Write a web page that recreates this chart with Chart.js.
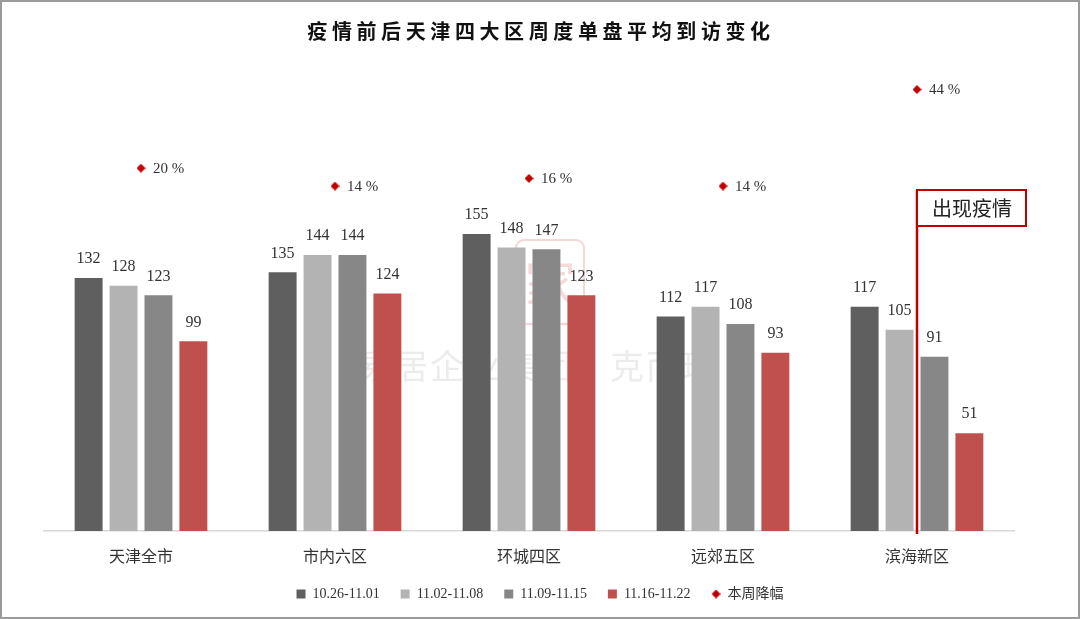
<!DOCTYPE html>
<html>
<head>
<meta charset="utf-8">
<script src="https://cdn.jsdelivr.net/npm/chart.js@4.4.1/dist/chart.umd.min.js"></script>
<style>
  html, body { margin: 0; padding: 0; background: #fff; }
  #wrap { width: 1080px; height: 619px; }
</style>
</head>
<body>
<div id="wrap"><canvas id="myChart1" width="1080" height="619"></canvas></div>
<script>
const categories = ["天津全市", "市内六区", "环城四区", "远郊五区", "滨海新区"];
const seriesNames = ["10.26-11.01", "11.02-11.08", "11.09-11.15", "11.16-11.22"];
const week1 = [132, 135, 155, 112, 117];
const week2 = [128, 144, 148, 117, 105];
const week3 = [123, 144, 147, 108, 91];
const week4 = [99, 124, 123, 93, 51];
const dropName = "本周降幅";
const dropPct = [19.5, 13.9, 16.3, 13.9, 44.0]; // %
const chartTitle = "疫情前后天津四大区周度单盘平均到访变化";
const eventLabel = "出现疫情";
const eventCategory = "滨海新区";

const FONT = "'Liberation Serif', 'Noto Sans CJK SC', serif";
const barColors = ["#5f5f5f", "#b3b3b3", "#878787", "#c0504d"];

// small red diamond used for the points and the legend
const diamond = document.createElement("canvas");
diamond.width = 9;
diamond.height = 9;
(function () {
  const c = diamond.getContext("2d");
  c.fillStyle = "#c00000";
  c.beginPath();
  c.moveTo(4.5, 0);
  c.lineTo(9, 4.5);
  c.lineTo(4.5, 9);
  c.lineTo(0, 4.5);
  c.closePath();
  c.fill();
})();

// frame + title + watermark
const decor = {
  id: "decor",
  beforeDatasetsDraw(chart) {
    const ctx = chart.ctx;
    ctx.save();
    ctx.fillStyle = "rgba(185,185,185,0.28)";
    ctx.font = "34px 'Noto Sans CJK SC'";
    ctx.letterSpacing = "2px";
    ctx.textAlign = "center";
    ctx.textBaseline = "middle";
    ctx.fillText("易居企业集团·克而瑞", 538, 366);
    ctx.letterSpacing = "0px";
    ctx.strokeStyle = "rgba(225,140,140,0.35)";
    ctx.lineWidth = 2;
    ctx.beginPath();
    ctx.roundRect(516, 240, 68, 84, 8);
    ctx.stroke();
    ctx.fillStyle = "rgba(215,110,110,0.25)";
    ctx.font = "52px 'Noto Sans CJK SC'";
    ctx.fillText("家", 550, 283);
    ctx.restore();
  },
  afterDraw(chart) {
    const ctx = chart.ctx;
    ctx.save();
    ctx.strokeStyle = "#9a9a9a";
    ctx.lineWidth = 2;
    ctx.strokeRect(1, 1, chart.width - 2, chart.height - 2);
    ctx.fillStyle = "#111";
    ctx.font = "bold 20px 'Noto Sans CJK SC'";
    ctx.letterSpacing = "4.6px";
    ctx.textAlign = "center";
    ctx.textBaseline = "middle";
    ctx.fillText(chartTitle, 541, 31);
    ctx.restore();
  },
};

// value labels, percent labels and the event marker
const labels = {
  id: "labels",
  afterDatasetsDraw(chart) {
    const ctx = chart.ctx;
    ctx.save();
    ctx.fillStyle = "#333";
    ctx.textAlign = "center";
    ctx.textBaseline = "bottom";
    ctx.font = "16px " + FONT;
    chart.data.datasets.forEach((ds, i) => {
      if (ds.type === "line") return;
      chart.getDatasetMeta(i).data.forEach((bar, j) => {
        ctx.fillText(ds.data[j], bar.x, bar.y - 11);
      });
    });
    const li = chart.data.datasets.findIndex((d) => d.type === "line");
    ctx.textAlign = "left";
    ctx.textBaseline = "middle";
    ctx.font = "15px " + FONT;
    chart.getDatasetMeta(li).data.forEach((pt, j) => {
      ctx.fillText(Math.round(dropPct[j]) + " %", pt.x + 12, pt.y + 1);
    });

    // event line + box
    const x = chart.scales.x.getPixelForValue(categories.indexOf(eventCategory));
    const top = 190;
    ctx.strokeStyle = "#c00000";
    ctx.lineWidth = 2.5;
    ctx.beginPath();
    ctx.moveTo(x, top);
    ctx.lineTo(x, chart.chartArea.bottom + 3);
    ctx.stroke();
    ctx.lineWidth = 2;
    ctx.fillStyle = "#fff";
    ctx.fillRect(x, top, 109, 36);
    ctx.strokeRect(x, top, 109, 36);
    ctx.fillStyle = "#222";
    ctx.textAlign = "center";
    ctx.font = "20px 'Noto Sans CJK SC'";
    ctx.fillText(eventLabel, x + 55, top + 18);
    ctx.restore();
  },
};

const ctx = document.getElementById("myChart1").getContext("2d");

const data = {
  labels: categories,
  datasets: [
    ...[week1, week2, week3, week4].map((vals, i) => ({
      label: seriesNames[i],
      data: vals,
      backgroundColor: barColors[i],
      borderWidth: 0,
      pointStyle: "rect",
      categoryPercentage: 0.72,
      barPercentage: 0.8,
      yAxisID: "y",
    })),
    {
      type: "line",
      label: dropName,
      data: dropPct,
      yAxisID: "y1",
      showLine: false,
      pointStyle: diamond,
      pointRadius: 5,
      backgroundColor: "#c00000",
      borderColor: "#c00000",
    },
  ],
};

const config = {
  type: "bar",
  data: data,
  options: {
    responsive: false,
    animation: false,
    layout: { padding: { left: 44, right: 44, top: 52, bottom: 8 } },
    scales: {
      x: {
        grid: { display: false, drawTicks: false },
        border: { display: true, color: "#d9d9d9", width: 1.5 },
        ticks: { color: "#333", font: { size: 16, family: FONT }, padding: 17 },
        afterFit: (scale) => { scale.height = 35; },
      },
      y: { display: false, min: 0, max: 250 },
      y1: {
        display: true,
        position: "right",
        min: -93.6,
        max: 55.7,
        grid: { display: false, drawTicks: false },
        border: { display: false },
        ticks: { display: false },
        afterFit: (scale) => { scale.width = 22; }, // keeps plot right edge at 1014
      },
    },
    plugins: {
      legend: {
        position: "bottom",
        labels: {
          usePointStyle: true,
          boxWidth: 9,
          boxHeight: 9,
          padding: 21,
          color: "#333",
          font: { size: 14, family: FONT },
        },
      },
      title: { display: false },
      tooltip: { enabled: false },
    },
  },
  plugins: [decor, labels],
};

const myChart = new Chart(ctx, config);
</script>
</body>
</html>
